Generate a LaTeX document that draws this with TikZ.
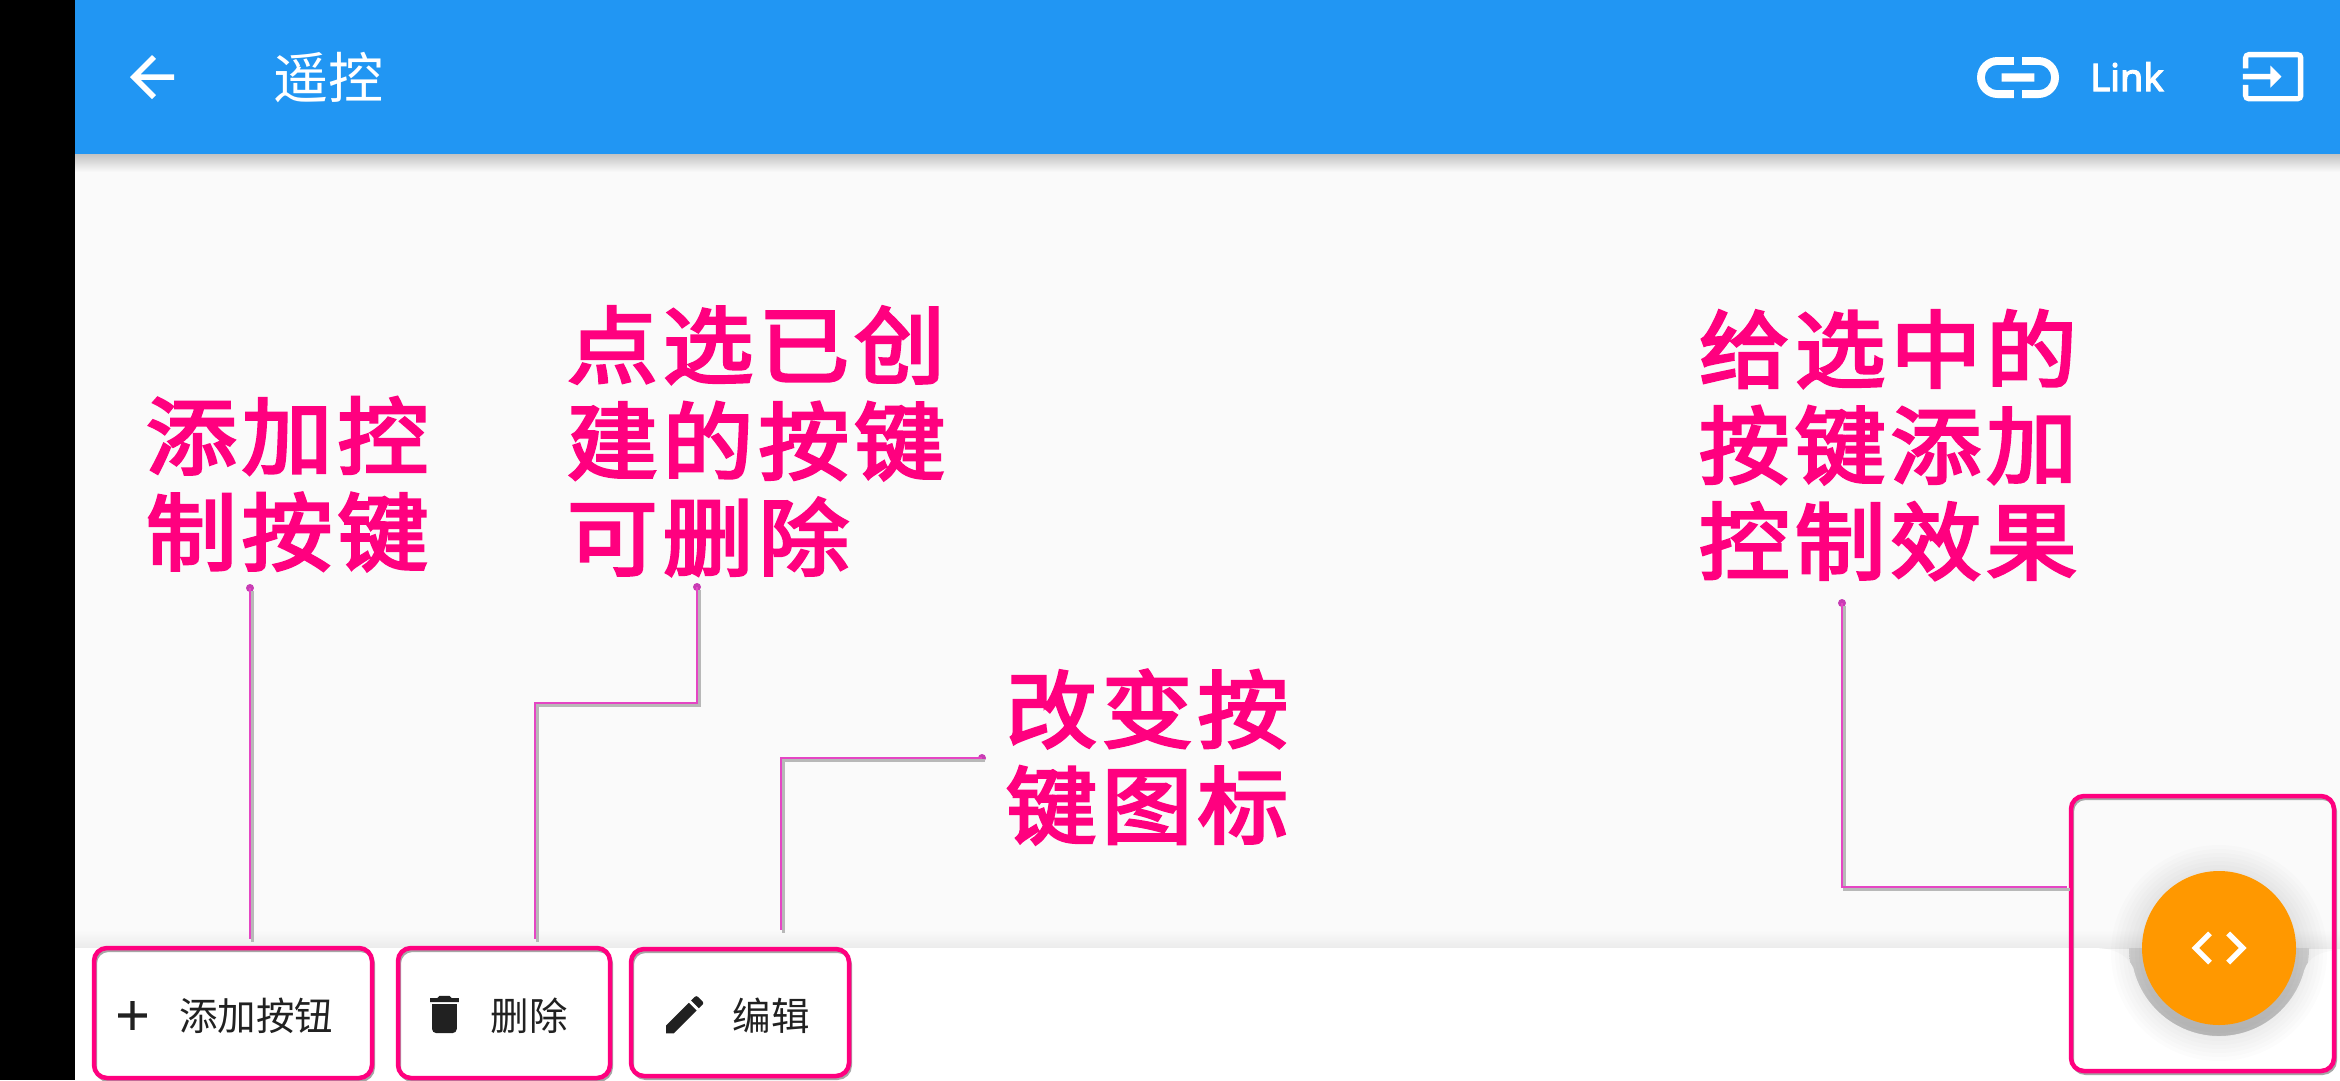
\documentclass[tikz,border=0pt]{standalone}
\usepackage{fontspec}
\usetikzlibrary{svg.path}
\newfontfamily\cjkfont{Noto Sans CJK SC}
\newfontfamily\pinkfont[LetterSpace=6,FakeStretch=1.08,FakeBold=3.5]{Noto Sans CJK SC}
\newfontfamily\linkfont[FakeBold=3]{Noto Sans}
\setmainfont{Noto Sans}
\definecolor{barblue}{HTML}{2196F3}
\definecolor{pagebg}{HTML}{FAFAFA}
\definecolor{hot}{HTML}{FF007F}
\definecolor{wire}{HTML}{E545C4}
\definecolor{wiredot}{HTML}{C83CB4}
\definecolor{fab}{HTML}{FF9800}
\definecolor{ink}{HTML}{212121}
\tikzset{
  x=1pt,y=-1pt,
  pinklabel/.style={inner sep=0pt,outer sep=0pt,anchor=west,align=left,text=hot,
     font=\pinkfont\fontsize{84}{96}\selectfont},
  btnlabel/.style={inner sep=0pt,anchor=center,text=ink,font=\cjkfont\fontsize{38.5}{44}\selectfont},
  markbox/.style={draw=hot,line width=4.5pt,rounded corners=13pt,inner sep=0pt,outer sep=0pt,anchor=north west,
     preaction={draw=black!35,line width=3pt,transform canvas={shift={(1.5pt,-2.5pt)}}}},
  wireline/.style={draw=wire,line width=2.6pt,
     preaction={draw=black!28,line width=2.5pt,transform canvas={shift={(2.5pt,-2.5pt)}}}},
  wiredotn/.style={circle,fill=wiredot,minimum size=8pt,inner sep=0pt},
}
\begin{document}
\begin{tikzpicture}
\useasboundingbox (0,0) rectangle (2340,1080);
% backgrounds
\fill[pagebg] (0,0) rectangle (2340,1080);
\fill[black] (0,0) rectangle (75,1080);
\shade[top color=black!22!pagebg,bottom color=pagebg] (75,154) rectangle (2340,172);
\fill[barblue] (75,0) rectangle (2340,154);
\shade[top color=pagebg,bottom color=black!6!pagebg] (75,930) rectangle (2340,948);
% notch shadow and bottom bar
\begin{scope}
  \clip (2100,948) rectangle (2340,1060);
  \shade[top color=black!8,bottom color=black!21] (2219,948) circle[radius=90pt];
\end{scope}
\fill[white] (75,948) -- (2093,948) .. controls (2115,948) and (2127,955) .. (2133.3,967.8)
   arc[start angle=193,end angle=345.5,radius=88pt]
   .. controls (2309,956) and (2322,951) .. (2340,950) -- (2340,1080) -- (75,1080) -- cycle;
\foreach \r in {80,84,88,92,96,100,104,108}
  \fill[black,opacity=0.012] (2219,953) circle[radius=\r pt];
% fab
\fill[fab] (2219,948) circle[radius=77pt];
\begin{scope}[shift={(2186,915)},xscale=2.75,yscale=-2.75]
  \fill[white] svg "M 9.4 16.6 L 4.8 12 L 9.4 7.4 L 8 6 L 2 12 L 8 18 L 9.4 16.6 Z M 14.6 16.6 L 19.2 12 L 14.6 7.4 L 16 6 L 22 12 L 16 18 L 14.6 16.6 Z";
\end{scope}
% app bar icons
\begin{scope}[shift={(119,44)},xscale=2.75,yscale=-2.75]
  \fill[white] svg "M 20 11 H 7.83 L 13.42 5.41 L 12 4 L 4 12 L 12 20 L 13.41 18.59 L 7.83 13 H 20 V 11 Z";
\end{scope}
\begin{scope}[shift={(1968.8,28.3)},xscale=4.1,yscale=-4.1]
  \fill[white] svg "M 3.9 12 C 3.9 10.29 5.29 8.9 7 8.9 H 11 V 7 H 7 C 4.24 7 2 9.24 2 12 C 2 14.76 4.24 17 7 17 H 11 V 15.1 H 7 C 5.29 15.1 3.9 13.71 3.9 12 Z M 8 13 H 16 V 11 H 8 V 13 Z M 17 7 H 13 V 8.9 H 17 C 18.71 8.9 20.1 10.29 20.1 12 C 20.1 13.71 18.71 15.1 17 15.1 H 13 V 17 H 17 C 19.76 17 22 14.76 22 12 C 22 9.24 19.76 7 17 7 Z";
\end{scope}
\begin{scope}[shift={(2240.2,43.7)},xscale=2.75,yscale=-2.75]
  \fill[white] svg "M 21 3.01 H 3 C 1.9 3.01 1 3.91 1 5.01 V 9 H 3 V 4.99 H 21 V 19.02 H 3 V 15 H 1 V 19.01 C 1 20.11 1.9 20.99 3 20.99 H 21 C 22.1 20.99 23 20.11 23 19.01 V 5.01 C 23 3.9 22.1 3.01 21 3.01 Z M 11 16 L 15 12 L 11 8 V 11 H 1 V 13 H 11 V 16 Z";
\end{scope}
\node[inner sep=0pt,text=white,font=\cjkfont\fontsize{55}{60}\selectfont] (title) at (328,78) {遥控};
\node[inner sep=0pt,text=white,anchor=base west,font=\linkfont\fontsize{38}{44}\selectfont] (link) at (2090,91) {Link};
% bottom icons
\begin{scope}[shift={(107.8,990.8)},xscale=2.06,yscale=-2.06]
  \fill[ink] svg "M 19 13 H 13 V 19 H 11 V 13 H 5 V 11 H 11 V 5 H 13 V 11 H 19 V 13 Z";
\end{scope}
\begin{scope}[shift={(419.7,989.8)},xscale=2.06,yscale=-2.06]
  \fill[ink] svg "M 6 19 C 6 20.1 6.9 21 8 21 H 16 C 17.1 21 18 20.1 18 19 V 7 H 6 V 19 Z M 19 4 H 15.5 L 14.5 3 H 9.5 L 8.5 4 H 5 V 6 H 19 V 4 Z";
\end{scope}
\begin{scope}[shift={(660,990)},xscale=2.06,yscale=-2.06]
  \fill[ink] svg "M 3 17.25 V 21 H 6.75 L 17.81 9.94 L 14.06 6.19 L 3 17.25 Z M 20.71 7.04 C 21.1 6.65 21.1 6.02 20.71 5.63 L 18.37 3.29 C 17.98 2.9 17.35 2.9 16.96 3.29 L 15.13 5.12 L 18.88 8.87 L 20.71 7.04 Z";
\end{scope}
\node[btnlabel] (lb1) at (256,1016) {添加按钮};
\node[btnlabel] (lb2) at (529,1016) {删除};
\node[btnlabel] (lb3) at (771,1016) {编辑};
% marked boxes
\node[markbox,minimum width=278pt,minimum height=130pt] (b1) at (94,948) {};
\node[markbox,minimum width=212pt,minimum height=130pt] (b2) at (398,948) {};
\node[markbox,minimum width=218pt,minimum height=127pt] (b3) at (631,949) {};
\node[markbox,minimum width=263pt,minimum height=275pt] (b4) at (2071,796) {};
% connectors
\node[wiredotn] (d1) at (250,588) {};
\coordinate (e1) at (250,939);
\node[wiredotn] (d2) at (697,587) {};
\coordinate (j2a) at (697,703);
\coordinate (j2b) at (535,703);
\coordinate (e2) at (535,939);
\node[wiredotn] (d3) at (982,758) {};
\coordinate (j3) at (781,758);
\coordinate (e3) at (781,930);
\node[wiredotn] (d4) at (1842,603) {};
\coordinate (j4) at (1842,887);
\coordinate (e4) at (2067,887);
\draw[wireline] (d1.center) -- (e1);
\draw[wireline] (d2.center) -- (j2a) -- (j2b) -- (e2);
\draw[wireline] (d3.center) -- (j3) -- (e3);
\draw[wireline] (d4.center) -- (j4) -- (e4);
% pink annotations
\node[pinklabel] (t1) at (146,484) {添加控\\制按键};
\node[pinklabel] (t2) at (567,441) {点选已创\\建的按键\\可删除};
\node[pinklabel] (t3) at (1006,757) {改变按\\键图标};
\node[pinklabel] (t4) at (1699,445) {给选中的\\按键添加\\控制效果};
\end{tikzpicture}
\end{document}
